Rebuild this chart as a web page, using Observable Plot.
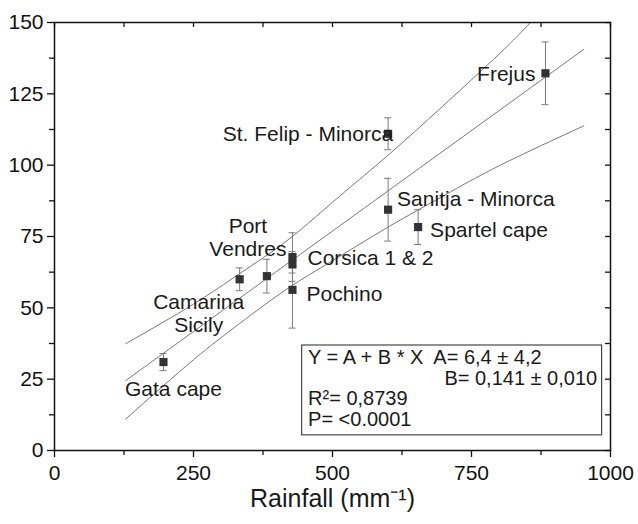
<!DOCTYPE html>
<html>
<head>
<meta charset="utf-8">
<script src="https://cdn.jsdelivr.net/npm/d3@7"></script>
<script src="https://cdn.jsdelivr.net/npm/@observablehq/plot@0.6"></script>
<style>
  html, body { margin: 0; padding: 0; background: #fff; }
</style>
</head>
<body>
<div id="chart"></div>
<script>
// ---- data ----
const sites    = ["Gata cape", "Camarina Sicily", "Port Vendres", "Corsica 1", "Corsica 2", "Pochino",
                  "St. Felip - Minorca", "Sanitja - Minorca", "Spartel cape", "Frejus"];
const rainfall = [196, 333, 382, 428, 428, 428, 600, 600, 654, 883];
const value    = [31.0, 60.0, 61.1, 67.8, 65.2, 56.3, 111.0, 84.4, 78.3, 132.2];
const err      = [3.0, 4.0, 5.9, 8.5, 3.0, 13.4, 5.6, 11.0, 6.1, 11.0];

const labelText = ["Gata cape", "Camarina\nSicily", "Port\nVendres", "Corsica 1 & 2", "", "Pochino",
                   "St. Felip - Minorca", "Sanitja - Minorca", "Spartel cape", "Frejus"];

// fitted line and bands
const fitX = [128, 952];
const fitY = [24.5, 140.6];
const upperX = [128, 250, 333, 418, 500, 600, 700, 800, 856];
const upperY = [37.4, 51.3, 62.0, 73.5, 87.0, 103.5, 121.0, 139.0, 150.0];
const lowerX = [128, 250, 333, 418, 500, 600, 700, 800, 952];
const lowerY = [11.0, 31.8, 44.5, 56.6, 66.5, 78.3, 89.3, 99.8, 113.8];

const xTicks = [0, 250, 500, 750, 1000];
const xMinor = [125, 375, 625, 875];
const yTicks = [0, 25, 50, 75, 100, 125, 150];
const yMinor = [12.5, 37.5, 62.5, 87.5, 112.5, 137.5];

const statLines = ["Y = A + B * X  A= 6,4 \u00b1 4,2", "B= 0,141 \u00b1 0,010", "R\u00b2= 0,8739", "P= <0.0001"];

// ---- layout (not data) ----
const labelLayout = [
  {dx: 10, dy: 27, anchor: "middle"},
  {dx: -41, dy: 34, anchor: "middle"},
  {dx: -19, dy: -39, anchor: "middle"},
  {dx: 15, dy: 1, anchor: "start"},
  {dx: 0, dy: 0, anchor: "start"},
  {dx: 14, dy: 4, anchor: "start"},
  {dx: 5, dy: 0, anchor: "end"},
  {dx: 9, dy: -11, anchor: "start"},
  {dx: 12, dy: 3, anchor: "start"},
  {dx: -10, dy: 0, anchor: "end"}
];

const pts = sites.map((s, i) => ({site: s, x: rainfall[i], y: value[i], lo: value[i] - err[i], hi: value[i] + err[i]}));
const fit = fitX.map((x, i) => ({x, y: fitY[i]}));
const upper = upperX.map((x, i) => ({x, y: upperY[i]}));
const lower = lowerX.map((x, i) => ({x, y: lowerY[i]}));

const font = "'Liberation Sans', Arial, Helvetica, sans-serif";
const lineColor = "#6a6a6a";
const errColor = "#7a7a7a";
const FS = 21;
const FSBOX = 20;

const labelMarks = labelText.map((t, i) => t ? Plot.text([pts[i]], {
  x: "x", y: "y", text: () => t,
  dx: labelLayout[i].dx, dy: labelLayout[i].dy, textAnchor: labelLayout[i].anchor,
  fontSize: FS, lineHeight: 1.1, fill: "#1a1a1a"
}) : null).filter(Boolean);

// stats box (annotation, placed in data space)
const statY = [32.4, 25.2, 18.05, 10.9];

const chart = Plot.plot({
  width: 638,
  height: 524,
  marginLeft: 54,
  marginRight: 28,
  marginTop: 22,
  marginBottom: 74,
  style: {fontFamily: font, background: "#fff", color: "#111", overflow: "visible"},
  x: {domain: [0, 1000]},
  y: {domain: [0, 150]},
  marks: [
    // bands and fit
    Plot.line(upper, {x: "x", y: "y", curve: "natural", stroke: lineColor, strokeWidth: 0.9}),
    Plot.line(lower, {x: "x", y: "y", curve: "natural", stroke: lineColor, strokeWidth: 0.9}),
    Plot.line(fit, {x: "x", y: "y", stroke: lineColor, strokeWidth: 0.9}),
    // error bars
    Plot.ruleX(pts, {x: "x", y1: "lo", y2: "hi", stroke: errColor, strokeWidth: 1}),
    Plot.ruleY(pts, {y: "hi", x1: "x", x2: "x", insetLeft: -3.5, insetRight: -3.5, stroke: errColor, strokeWidth: 1}),
    Plot.ruleY(pts, {y: "lo", x1: "x", x2: "x", insetLeft: -3.5, insetRight: -3.5, stroke: errColor, strokeWidth: 1}),
    // points
    Plot.dot(pts, {x: "x", y: "y", symbol: "square", r: 4.6, fill: "#333", stroke: null}),
    // labels
    ...labelMarks,
    // stats box
    Plot.rect([0], {x1: 445.5, x2: 985, y1: 5.3, y2: 36.8, fill: "none", stroke: "#222", strokeWidth: 1}),
    Plot.text([statLines[0]], {x: 456, y: statY[0], text: d => d, textAnchor: "start", fontSize: FSBOX, fill: "#1a1a1a"}),
    Plot.text([statLines[1]], {x: 976, y: statY[1], text: d => d, textAnchor: "end", fontSize: FSBOX, fill: "#1a1a1a"}),
    Plot.text([statLines[2]], {x: 456, y: statY[2], text: d => d, textAnchor: "start", fontSize: FSBOX, fill: "#1a1a1a"}),
    Plot.text([statLines[3]], {x: 456, y: statY[3], text: d => d, textAnchor: "start", fontSize: FSBOX, fill: "#1a1a1a"}),
    // frame and axes
    Plot.frame({stroke: "#111", strokeWidth: 1.5}),
    Plot.axisX(xTicks, {anchor: "bottom", tickSize: 7, tickPadding: 8, fontSize: FS, label: null, tickFormat: d => String(d), stroke: "#111", strokeWidth: 1.3}),
    Plot.axisX(xMinor, {anchor: "bottom", tickSize: 5, text: null, label: null, stroke: "#111", strokeWidth: 1.3}),
    Plot.axisY(yTicks, {anchor: "left", tickSize: 7, tickPadding: 4, fontSize: FS, label: null, tickFormat: d => String(d), stroke: "#111", strokeWidth: 1.3}),
    Plot.axisY(yMinor, {anchor: "left", tickSize: 5, text: null, label: null, stroke: "#111", strokeWidth: 1.3}),
    // inward ticks on top and right
    Plot.tickX([...xTicks, ...xMinor], {x: d => d, insetBottom: 423, stroke: "#111", strokeWidth: 1.3}),
    Plot.tickY([...yTicks, ...yMinor], {y: d => d, insetLeft: 551, stroke: "#111", strokeWidth: 1.3}),
    // x axis title
    Plot.text(["Rainfall (mm\u207b\u00b9)"], {frameAnchor: "bottom", text: d => d, dy: 56, fontSize: 25, fill: "#1a1a1a"})
  ]
});

document.getElementById("chart").appendChild(chart);
</script>
</body>
</html>
